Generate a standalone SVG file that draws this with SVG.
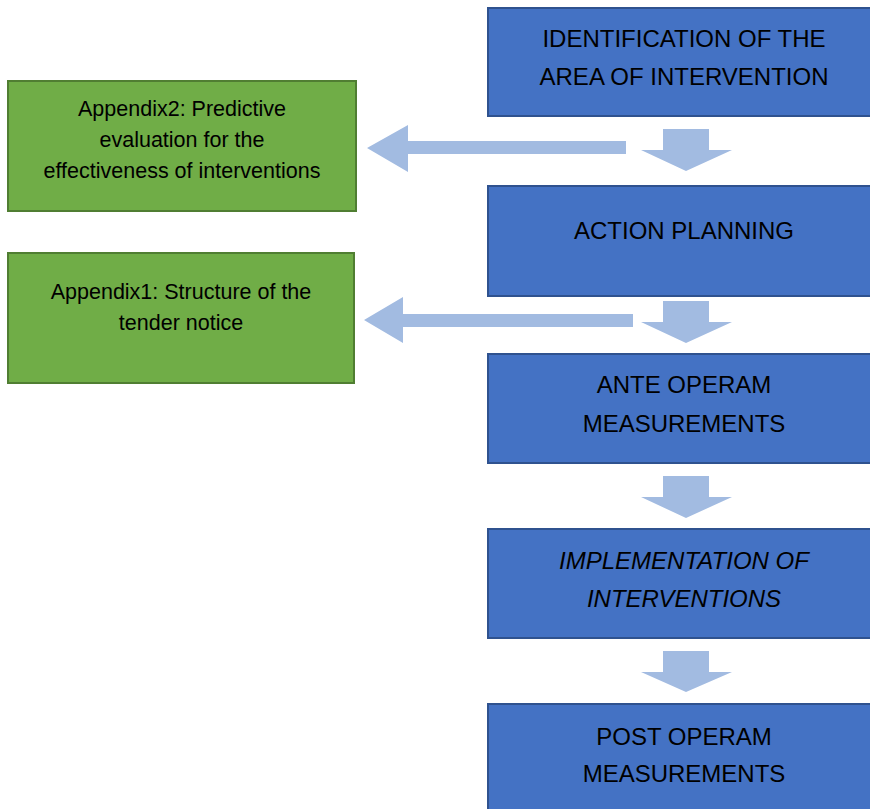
<svg xmlns="http://www.w3.org/2000/svg" width="870" height="809" viewBox="0 0 870 809">
<style>
.blue{fill:#4472C4;stroke:#2F528F;stroke-width:2}
.green{fill:#70AD47;stroke:#507E32;stroke-width:2}
.bt{font-family:"Liberation Sans",Arial,sans-serif;font-size:24px;fill:#000;text-anchor:middle}
.gt{font-family:"Liberation Sans",Arial,sans-serif;font-size:21.5px;fill:#000;text-anchor:middle}
.arr{fill:#A2BBE1}
</style>
<rect width="870" height="809" fill="#fff"/>
<g id="connectors">
<polygon class="arr" points="663,129 709,129 709,150 732,150 686,171 641,150 663,150"/>
<polygon class="arr" points="663,301 709,301 709,322 732,322 686,343 641,322 663,322"/>
<polygon class="arr" points="663,476 709,476 709,497 732,497 686,518 641,497 663,497"/>
<polygon class="arr" points="663,651 709,651 709,672 732,672 686,692 641,672 663,672"/>
<polygon class="arr" points="626,141 626,154 408,154 408,172 367,148 408,125 408,141"/>
<polygon class="arr" points="633,314 633,327 403,327 403,343 364,320 403,297 403,314"/>
</g>
<g id="n1"><rect class="blue" x="488" y="8" width="394" height="108"/>
<text class="bt" x="684" y="47">IDENTIFICATION OF THE</text>
<text class="bt" x="684" y="85">AREA OF INTERVENTION</text></g>
<g id="n2"><rect class="blue" x="488" y="186" width="394" height="110"/>
<text class="bt" x="684" y="239">ACTION PLANNING</text></g>
<g id="n3"><rect class="blue" x="488" y="354" width="394" height="109"/>
<text class="bt" x="684" y="393">ANTE OPERAM</text>
<text class="bt" x="684" y="432">MEASUREMENTS</text></g>
<g id="n4"><rect class="blue" x="488" y="529" width="394" height="109"/>
<text class="bt" x="684" y="569" font-style="italic">IMPLEMENTATION OF</text>
<text class="bt" x="684" y="607" font-style="italic">INTERVENTIONS</text></g>
<g id="n5"><rect class="blue" x="488" y="704" width="394" height="120"/>
<text class="bt" x="684" y="745">POST OPERAM</text>
<text class="bt" x="684" y="782">MEASUREMENTS</text></g>
<g id="a2"><rect class="green" x="8" y="81" width="348" height="130"/>
<text class="gt" x="182" y="116">Appendix2: Predictive</text>
<text class="gt" x="182" y="147">evaluation for the</text>
<text class="gt" x="182" y="178">effectiveness of interventions</text></g>
<g id="a1"><rect class="green" x="8" y="253" width="346" height="130"/>
<text class="gt" x="181" y="299">Appendix1: Structure of the</text>
<text class="gt" x="181" y="330">tender notice</text></g>
</svg>
